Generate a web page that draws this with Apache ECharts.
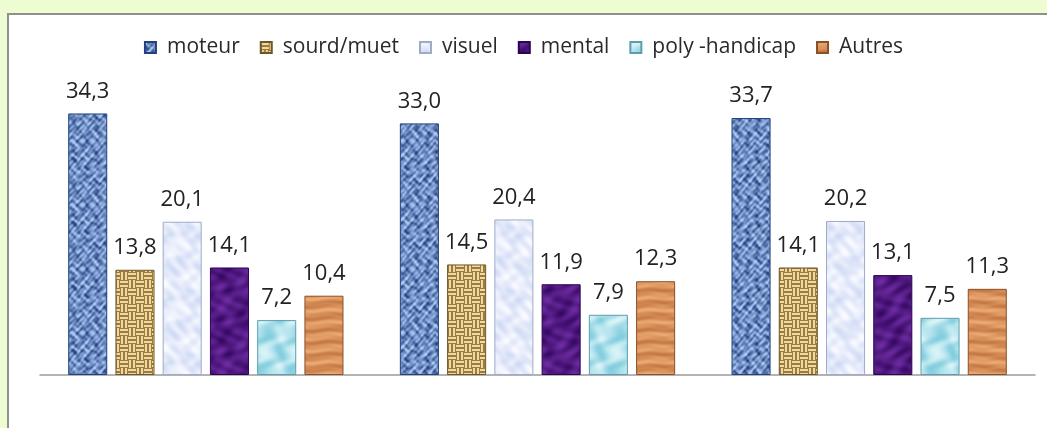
<!DOCTYPE html>
<html>
<head>
<meta charset="utf-8">
<script src="https://cdn.jsdelivr.net/npm/echarts@6/dist/echarts.min.js"></script>
<style>
  html, body { margin: 0; padding: 0; }
  body { width: 1047px; height: 428px; background: #eefcd2; position: relative; overflow: hidden; }
  #panel { position: absolute; left: 7px; top: 13px; right: -4px; bottom: -4px;
           background: #fff; border-left: 2px solid #8f8f8f; border-top: 2px solid #8f8f8f; }
  #chart { position: absolute; left: 0; top: 0; width: 1047px; height: 428px; }
</style>
</head>
<body>
<div id="panel"></div>
<div id="chart"></div>
<script>
// Three survey groups, share (%) of each type of disability
const groups = ['Groupe 1', 'Groupe 2', 'Groupe 3'];
const seriesNames = ['moteur', 'sourd/muet', 'visuel', 'mental', 'poly -handicap', 'Autres'];
const moteur = [34.3, 33.0, 33.7];
const sourdMuet = [13.8, 14.5, 14.1];
const visuel = [20.1, 20.4, 20.2];
const mental = [14.1, 11.9, 13.1];
const polyHandicap = [7.2, 7.9, 7.5];
const autres = [10.4, 12.3, 11.3];
const seriesValues = [moteur, sourdMuet, visuel, mental, polyHandicap, autres];

// ---- procedural fill textures ----
function makeCanvas(w, h, paint) {
  const c = document.createElement('canvas');
  c.width = w; c.height = h;
  const ctx = c.getContext('2d');
  paint(ctx, w, h);
  return c;
}
function mix(a, b, t) {
  t = Math.max(0, Math.min(1, t));
  return [a[0] + (b[0] - a[0]) * t, a[1] + (b[1] - a[1]) * t, a[2] + (b[2] - a[2]) * t];
}
function pixelFill(w, h, fn) {
  return makeCanvas(w, h, (ctx) => {
    const img = ctx.createImageData(w, h);
    for (let y = 0; y < h; y++) {
      for (let x = 0; x < w; x++) {
        const c = fn(x / w * TAU, y / h * TAU);
        const i = (y * w + x) * 4;
        img.data[i] = c[0]; img.data[i + 1] = c[1]; img.data[i + 2] = c[2]; img.data[i + 3] = 255;
      }
    }
    ctx.putImageData(img, 0, 0);
  });
}
const TAU = Math.PI * 2;
// blue marble
const texMoteur = pixelFill(64, 64, (u, v) => {
  const n = 0.6 * Math.sin(3 * u + 2.1 * Math.sin(2 * v + 1)) * Math.cos(4 * v + 1.7 * Math.sin(3 * u))
          + 0.45 * Math.sin(7 * u + 2 * Math.cos(5 * v))
          + 0.35 * Math.cos(9 * v - 2 * Math.sin(6 * u))
          + 0.25 * Math.sin(13 * u + 11 * v);
  return mix([38, 68, 135], [170, 200, 240], 0.5 + n * 0.45);
});
// burlap weave
const texSourd = makeCanvas(16, 16, (ctx) => {
  ctx.fillStyle = '#9a7c40'; ctx.fillRect(0, 0, 16, 16);
  ctx.fillStyle = '#f0d89e';
  ctx.fillRect(0, 1, 8, 2); ctx.fillRect(0, 5, 8, 2);
  ctx.fillRect(9, 0, 2, 8); ctx.fillRect(13, 0, 2, 8);
  ctx.fillRect(8, 9, 8, 2); ctx.fillRect(8, 13, 8, 2);
  ctx.fillRect(1, 8, 2, 8); ctx.fillRect(5, 8, 2, 8);
});
// pale blue frost
const texVisuel = pixelFill(64, 64, (u, v) => {
  const n = Math.sin(2 * u + Math.sin(3 * v)) * Math.cos(2 * v + Math.sin(2 * u)) + 0.3 * Math.sin(5 * u - 4 * v);
  return mix([200, 212, 242], [248, 250, 255], 0.6 + n * 0.35);
});
// deep purple
const texMental = pixelFill(64, 64, (u, v) => {
  const n = Math.sin(2 * u + 1.5 * Math.sin(2 * v)) * Math.cos(3 * v + Math.sin(u)) + 0.3 * Math.sin(4 * u + 3 * v);
  return mix([55, 8, 98], [115, 48, 170], 0.45 + n * 0.35);
});
// light aqua water
const texPoly = pixelFill(64, 64, (u, v) => {
  const n = Math.sin(2 * (u + v) + Math.sin(3 * v)) + 0.6 * Math.sin(2 * (u - v) + Math.cos(2 * u));
  return mix([130, 205, 222], [218, 244, 248], 0.5 + n * 0.3);
});
// wood grain
const texAutres = pixelFill(64, 64, (u, v) => {
  const n = Math.sin(5 * v + 0.8 * Math.sin(u)) + 0.4 * Math.sin(11 * v + Math.sin(2 * u));
  return mix([190, 112, 58], [238, 172, 118], 0.55 + n * 0.3);
});
const textures = [texMoteur, texSourd, texVisuel, texMental, texPoly, texAutres];
const edgeColors = ['#23427d', '#6e5626', '#a0abc8', '#2a0550', '#5e9eac', '#8a5028'];

function fmt(v) { return v.toFixed(1).replace('.', ','); }

const chart = echarts.init(document.getElementById('chart'), null, { renderer: 'canvas' });
chart.setOption({
  backgroundColor: 'transparent',
  animation: false,
  textStyle: { fontFamily: 'Open Sans' },
  legend: {
    top: 32,
    left: 'center',
    itemWidth: 11,
    itemHeight: 11,
    itemGap: 20,
    icon: 'rect',
    textStyle: { fontSize: 21, color: '#2a2a2a', fontFamily: 'Open Sans', padding: [0, 0, 0, 6] },
    data: seriesNames
  },
  grid: { left: 40, right: 12, top: 70, bottom: 53 },
  xAxis: {
    type: 'category',
    data: groups,
    axisLine: { show: true, lineStyle: { color: '#9a9a9a', width: 1.5 } },
    axisTick: { show: false },
    axisLabel: { show: false }
  },
  yAxis: {
    type: 'value',
    min: 0,
    max: 40,
    interval: 10,
    show: false,
    splitLine: { show: false }
  },
  series: seriesNames.map((name, i) => ({
    name: name,
    type: 'bar',
    data: seriesValues[i],
    barGap: '21%',
    barCategoryGap: '17%',
    itemStyle: {
      color: { image: textures[i], repeat: 'repeat' },
      borderColor: edgeColors[i],
      borderWidth: 1
    },
    label: {
      show: true,
      position: 'top',
      distance: 11,
      fontSize: 22,
      color: '#222',
      fontFamily: 'Open Sans',
      formatter: (p) => fmt(p.value)
    }
  }))
});
</script>
</body>
</html>
